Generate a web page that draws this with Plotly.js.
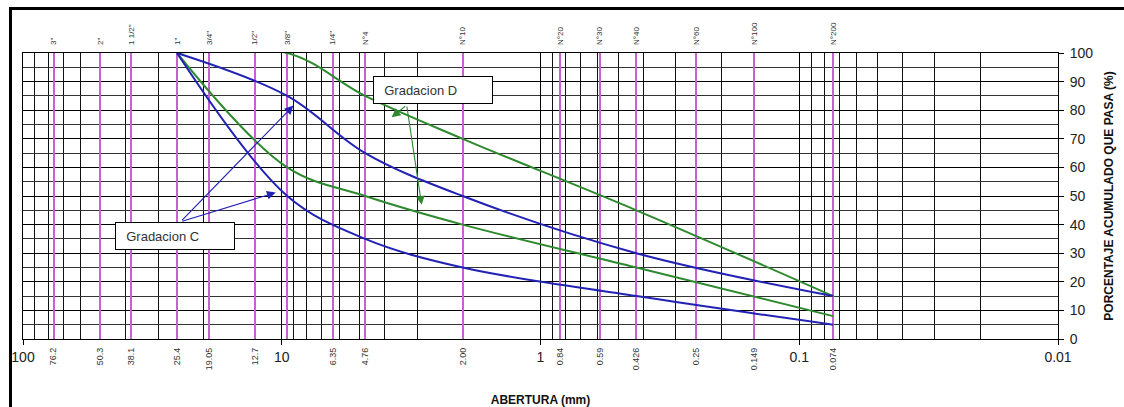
<!DOCTYPE html>
<html>
<head>
<meta charset="utf-8">
<script src="https://cdn.plot.ly/plotly-3.0.1.min.js"></script>
<style>
  html, body { margin: 0; padding: 0; background: #fff; }
  #wrap { position: relative; width: 1124px; height: 407px; overflow: hidden; }
  #frame { position: absolute; left: 9px; top: 7px; width: 1200px; height: 500px;
           border-left: 3px solid #000; border-top: 3px solid #000; pointer-events: none; }
  #chart { position: absolute; left: 0; top: 0; width: 1124px; height: 407px; }
</style>
</head>
<body>
<div id="wrap">
  <div id="chart"></div>
  <div id="frame"></div>
</div>
<script>
// ---- data ----
const sieveSizes = [25.4, 9.525, 4.76, 2.00, 0.426, 0.074];   // mm: 1", 3/8", N°4, N°10, N°40, N°200
const gradCLower = [100, 50, 35, 25, 15, 5];
const gradCUpper = [100, 85, 65, 50, 30, 15];
const gradDLower = [100, 60, 50, 40, 25, 8];
const gradDUpper = [100, 100, 85, 70, 45, 15];

const topSieveVals = [76.2, 50.3, 38.1, 25.4, 19.05, 12.7, 9.525, 6.35, 4.76, 2.00, 0.84, 0.59, 0.426, 0.25, 0.149, 0.074];
const topSieveLabels = ['3"', '2"', '1 1/2"', '1"', '3/4"', '1/2"', '3/8"', '1/4"', 'N°4', 'N°10', 'N°20', 'N°30', 'N°40', 'N°60', 'N°100', 'N°200'];
const bottomSieveVals = [76.2, 50.3, 38.1, 25.4, 19.05, 12.7, 6.35, 4.76, 2.00, 0.84, 0.59, 0.426, 0.25, 0.149, 0.074];
const bottomSieveLabels = ['76.2', '50.3', '38.1', '25.4', '19.05', '12.7', '6.35', '4.76', '2.00', '0.84', '0.59', '0.426', '0.25', '0.149', '0.074'];
const decadeVals = [100, 10, 1, 0.1, 0.01];
const decadeLabels = ['100', '10', '1', '0.1', '0.01'];

// ---- styling ----
const BLUE = '#2222b4';
const GREEN = '#2e8a2e';
const PINK = 'rgb(200,95,210)';
const FONT = 'Liberation Sans, Arial, sans-serif';

const minorGrid = [];
[0.01, 0.1, 1, 10].forEach(d => { for (let k = 2; k <= 9; k++) minorGrid.push(k * d); });

function curve(y, color, name) {
  return { x: sieveSizes, y: y, type: 'scatter', mode: 'lines', name: name,
           line: { color: color, width: 2, shape: 'spline', smoothing: 1 },
           xaxis: 'x', yaxis: 'y', hoverinfo: 'x+y' };
}

const traces = [
  curve(gradDUpper, GREEN, 'Gradacion D (sup)'),
  curve(gradDLower, GREEN, 'Gradacion D (inf)'),
  curve(gradCUpper, BLUE, 'Gradacion C (sup)'),
  curve(gradCLower, BLUE, 'Gradacion C (inf)')
];

const L = Math.log10;
function arrow(hx, hy, tx, ty, color) {
  return { x: L(hx), y: hy, ax: L(tx), ay: ty, axref: 'x', ayref: 'y', xref: 'x', yref: 'y',
           text: '', showarrow: true, arrowhead: 2, arrowsize: 1.6, arrowwidth: 1.1, arrowcolor: color };
}
function label(txt, cx, cy) {
  return { x: L(cx), y: cy, xref: 'x', yref: 'y', text: '&nbsp;&nbsp;' + txt, showarrow: false,
           xanchor: 'center', yanchor: 'middle', align: 'left', width: 112, height: 20, borderpad: 3,
           bgcolor: '#fff', bordercolor: '#000', borderwidth: 1,
           font: { family: FONT, size: 13, color: '#333' } };
}

const layout = {
  width: 1124, height: 407,
  margin: { l: 23, r: 66, t: 53, b: 68 },
  paper_bgcolor: 'rgba(0,0,0,0)', plot_bgcolor: '#fff',
  showlegend: false,
  font: { family: FONT, color: '#222' },
  xaxis: {
    type: 'log', range: [2, -2], side: 'bottom', anchor: 'y',
    tickmode: 'array', tickvals: decadeVals, ticktext: decadeLabels,
    tickfont: { size: 14, color: '#222' },
    ticks: 'outside', ticklen: 5, tickcolor: '#000',
    showline: true, linecolor: '#000', linewidth: 1, mirror: true,
    showgrid: true, gridcolor: '#000', gridwidth: 1, zeroline: false,
    minor: { tickmode: 'array', tickvals: minorGrid, showgrid: true, gridcolor: '#111', gridwidth: 1, ticks: '' },
    title: { text: 'ABERTURA (mm)', font: { size: 12, weight: 'bold', color: '#111' }, standoff: 33 }
  },
  xaxis2: {
    type: 'log', range: [2, -2], side: 'top', anchor: 'y', overlaying: 'x',
    tickmode: 'array', tickvals: topSieveVals, ticktext: topSieveLabels,
    tickangle: -90, tickfont: { size: 8, color: '#333' }, ticks: '', ticklabelstandoff: 7,
    showgrid: true, gridcolor: PINK, gridwidth: 2, showline: false, zeroline: false
  },
  xaxis3: {
    type: 'log', range: [2, -2], side: 'bottom', anchor: 'y', overlaying: 'x',
    tickmode: 'array', tickvals: bottomSieveVals, ticktext: bottomSieveLabels,
    tickangle: -90, tickfont: { size: 9, color: '#333' }, ticks: '', ticklabelstandoff: 6,
    showgrid: false, showline: false, zeroline: false
  },
  yaxis: {
    range: [0, 100], side: 'right', anchor: 'x',
    tickmode: 'linear', tick0: 0, dtick: 10,
    tickfont: { size: 14, color: '#222' },
    ticks: 'outside', ticklen: 5, tickcolor: '#000', ticklabelstandoff: 3,
    showline: true, linecolor: '#000', linewidth: 1, mirror: true,
    showgrid: true, gridcolor: '#000', gridwidth: 1, zeroline: false,
    minor: { dtick: 5, showgrid: true, gridcolor: '#333', gridwidth: 1, ticks: '' },
    title: { text: 'PORCENTAJE ACUMULADO QUE PASA (%)', font: { size: 12, weight: 'bold', color: '#111' }, standoff: 12 }
  },
  annotations: [
    label('Gradacion D', 2.614, 87.0),
    arrow(3.76, 77.5, 3.29, 81.8, GREEN),
    arrow(2.88, 46.9, 3.29, 81.8, GREEN),
    label('Gradacion C', 25.78, 36.1),
    arrow(9.02, 81.6, 24.57, 41.0, BLUE),
    arrow(10.55, 51.2, 24.57, 41.0, BLUE)
  ]
};

// empty traces that only switch on the overlay axes (no visible marks)
traces.push({ x: [], y: [], xaxis: 'x2', yaxis: 'y', type: 'scatter', mode: 'lines', hoverinfo: 'skip', showlegend: false });
traces.push({ x: [], y: [], xaxis: 'x3', yaxis: 'y', type: 'scatter', mode: 'lines', hoverinfo: 'skip', showlegend: false });

Plotly.newPlot('chart', traces, layout, { staticPlot: true, displayModeBar: false });
</script>
</body>
</html>
